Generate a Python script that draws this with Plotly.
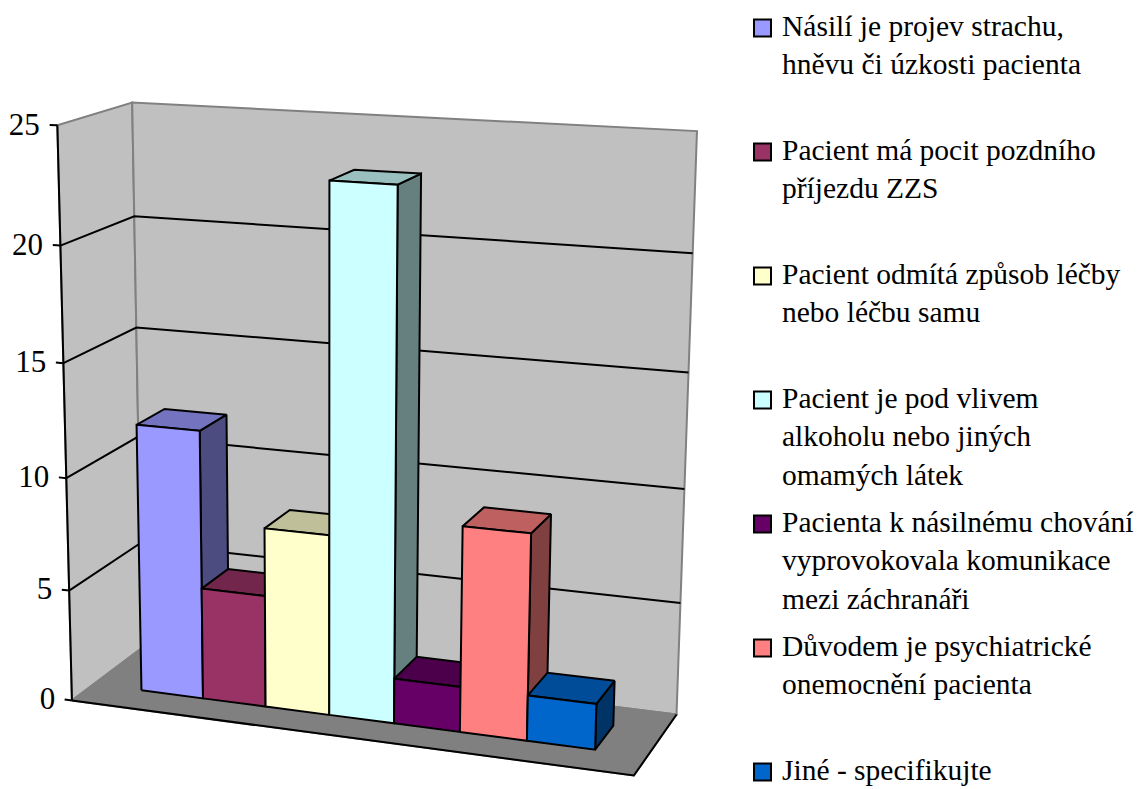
import numpy as np
import plotly.graph_objects as go

categories = [
    "Násilí je projev strachu,<br>hněvu či úzkosti pacienta",
    "Pacient má pocit pozdního<br>příjezdu ZZS",
    "Pacient odmítá způsob léčby<br>nebo léčbu samu",
    "Pacient je pod vlivem<br>alkoholu nebo jiných<br>omamých látek",
    "Pacienta k násilnému chování<br>vyprovokovala komunikace<br>mezi záchranáři",
    "Důvodem je psychiatrické<br>onemocnění pacienta",
    "Jiné - specifikujte",
]
values = [12, 5, 8, 23, 2, 9, 2]
colors = ["#9999FF", "#993366", "#FFFFCC", "#CCFFFF", "#660066", "#FF8080", "#0066CC"]
tick_values = [0, 5, 10, 15, 20, 25]
Z_MAX = 25

# Calibration of the 3D view: (x, depth, z) of the chart box -> page pixel
view = [
    ((0, 0, 0), (73, 698)), ((1, 0, 0), (635, 777)), ((1, 1, 0), (677, 713)),
    ((0, 1, 0), (140, 650)), ((0, 0, 25), (56, 126)), ((0, 1, 25), (133, 102)),
    ((0, 1, 25), (133, 102)), ((0, 1, 25), (133, 102)),
    ((1, 1, 25), (697, 130)), ((0, 0, 5), (70, 590)), ((0, 0, 15), (63, 364)),
    ((0, 0, 20), (59, 246)), ((0, 1, 20), (135, 216)), ((0, 1, 20), (135, 216)),
    ((0, 1, 15), (136, 328)), ((0, 1, 15), (136, 328)),
    ((1, 1, 20), (692, 255)), ((1, 1, 15), (688, 372)), ((1, 1, 5), (680, 603)),
]
A, b = [], []
for (x, d, z), (u, v) in view:
    A.append([x, d, z, 1, 0, 0, 0, 0, -u * x, -u * d, -u * z]); b.append(u)
    A.append([0, 0, 0, 0, x, d, z, 1, -v * x, -v * d, -v * z]); b.append(v)
p = np.linalg.lstsq(np.array(A, float), np.array(b, float), rcond=None)[0]
P = np.append(p, 1).reshape(3, 4)


def proj(points):
    pts = np.array([[x, d, z, 1] for x, d, z in points], float).T
    h = P @ pts
    return (h[0] / h[2]).tolist(), (h[1] / h[2]).tolist()


def shade(color, k):
    rgb = [int(color[i:i + 2], 16) for i in (1, 3, 5)]
    return "rgb(%d,%d,%d)" % tuple(round(c * k) for c in rgb)


fig = go.Figure()


def poly(points, fill, line="black", width=2, name=None):
    xs, ys = proj(points + points[:1])
    fig.add_trace(go.Scatter(x=xs, y=ys, mode="lines", fill="toself", fillcolor=fill,
                             line=dict(color=line, width=width), hoverinfo="skip",
                             showlegend=False, name=name))


def seg(points, color="black", width=2):
    xs, ys = proj(points)
    fig.add_trace(go.Scatter(x=xs, y=ys, mode="lines", line=dict(color=color, width=width),
                             hoverinfo="skip", showlegend=False))


# Walls and floor
poly([(0, 0, 0), (0, 1, 0), (0, 1, Z_MAX), (0, 0, Z_MAX)], "#C0C0C0", "#808080")
poly([(0, 1, 0), (1, 1, 0), (1, 1, Z_MAX), (0, 1, Z_MAX)], "#C0C0C0", "#808080")
poly([(0, 0, 0), (1, 0, 0), (1, 1, 0), (0, 1, 0)], "#808080", "#808080")
seg([(0, 0, 0), (1, 0, 0), (1, 1, 0)])
seg([(0, 0, 0), (0, 0, Z_MAX)])

# Gridlines, ticks and tick labels
for t in tick_values:
    seg([(-0.014, 0, t), (0, 0, t)])
    if 0 < t < Z_MAX:
        seg([(0, 0, t), (0, 1, t), (1, 1, t)])
lx, ly = proj([(-0.032, 0, t) for t in tick_values])
fig.add_trace(go.Scatter(x=lx, y=[v + 3 for v in ly], mode="text", text=[str(t) for t in tick_values],
                         textposition="middle left", hoverinfo="skip", showlegend=False,
                         textfont=dict(family="Liberation Serif", size=31, color="black")))

# Bars, drawn left to right so each one covers the side of the previous one
X0, X1, D0, D1 = 0.092, 0.912, 0.3, 0.7
w = (X1 - X0) / len(values)
for i, (val, col) in enumerate(zip(values, colors)):
    a, c = X0 + i * w, X0 + (i + 1) * w
    poly([(c, D0, 0), (c, D1, 0), (c, D1, val), (c, D0, val)], shade(col, 0.5))
    poly([(a, D0, val), (c, D0, val), (c, D1, val), (a, D1, val)], shade(col, 0.75))
    poly([(a, D0, 0), (c, D0, 0), (c, D0, val), (a, D0, val)], col)

# Legend
LEG_Y = np.linspace(28, 772, len(categories)).tolist()
for cat, col, y in zip(categories, colors, LEG_Y):
    fig.add_trace(go.Scatter(x=[762.5], y=[y], mode="markers", showlegend=False, hoverinfo="skip",
                             marker=dict(symbol="square", size=17, color=col,
                                         line=dict(color="black", width=2))))
    fig.add_annotation(x=782, y=y - 18, xref="x", yref="y", text=cat, showarrow=False,
                       xanchor="left", yanchor="top", align="left", borderpad=0, borderwidth=0,
                       font=dict(family="Liberation Serif", size=29.5, color="black"))

fig.update_xaxes(range=[0, 1137], visible=False, fixedrange=True)
fig.update_yaxes(range=[789, 0], visible=False, fixedrange=True)
fig.update_layout(width=1137, height=789, margin=dict(l=0, r=0, t=0, b=0),
                  paper_bgcolor="white", plot_bgcolor="white", showlegend=False)
fig.write_html("out.html", config=dict(displayModeBar=False),
               post_script="document.body.style.margin='0';")
